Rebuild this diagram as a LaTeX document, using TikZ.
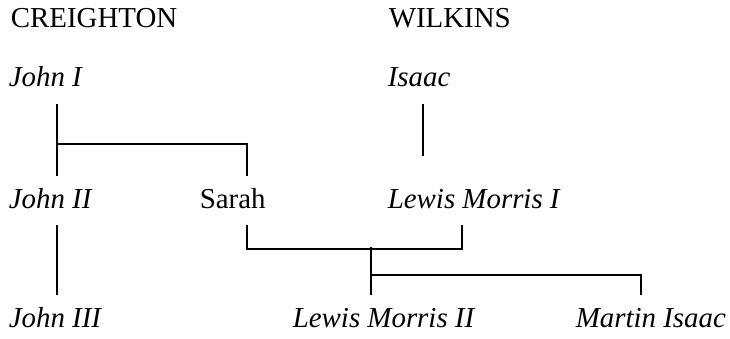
\documentclass[tikz,border=0pt]{standalone}
\usepackage{fontspec}
\setmainfont{Liberation Serif}
\begin{document}
\begin{tikzpicture}[x=1pt, y=-1pt, line width=1.6pt,
    every node/.style={anchor=base west, inner sep=0pt, font=\fontsize{28.9}{34}\selectfont},
    person/.style={text height=31pt, text depth=16pt},
    kin/.style={person, font=\fontsize{28.9}{34}\selectfont\itshape}]
    \useasboundingbox (0,0) rectangle (730,339);
    % Families
    \node (creighton) at (10,28) {CREIGHTON};
    \node (wilkins) at (388,28) {WILKINS};
    % Generation 1
    \node[kin] (john1) at (8,87) {John I};
    \node[kin] (isaac) at (387,87) {Isaac};
    % Generation 2
    \node[kin] (john2) at (8,208) {John II};
    \node[person] (sarah) at (199,208) {Sarah};
    \node[kin] (lewis1) at (387,208) {Lewis Morris I};
    % Generation 3
    \node[kin] (john3) at (8,327) {John III};
    \node[kin] (lewis2) at (292,327) {Lewis Morris II};
    \node[kin] (martin) at (575,327) {Martin Isaac};
    % Lines of descent
    \draw ([xshift=49pt]john1.south west) -- ([xshift=49pt]john2.north west);
    \draw ([xshift=48pt]sarah.north west) -- ++(0,-32) -| ([xshift=49pt]john2.north west);
    \draw ([xshift=36pt]isaac.south west) -- ++(0,52);
    \draw ([xshift=49pt]john2.south west) -- ([xshift=49pt]john3.north west);
    % Marriage
    \draw ([xshift=48pt]sarah.south west) -- ++(0,24) -| ([xshift=75pt]lewis1.south west);
    \draw ([xshift=79pt]lewis2.north west) -- ++(0,-48);
    \draw ([xshift=79pt]lewis2.north west) ++(0,-20) -| ([xshift=66pt]martin.north west);
\end{tikzpicture}
\end{document}
